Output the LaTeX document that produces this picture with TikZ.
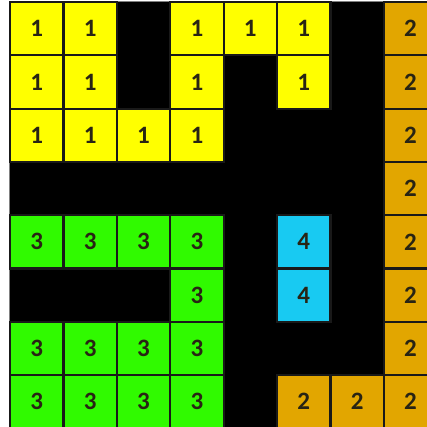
\documentclass[tikz,border=0pt]{standalone}
\usepackage{fontspec}
\setmainfont{Carlito}
\definecolor{cyel}{RGB}{255,255,0}
\definecolor{cgold}{RGB}{226,166,0}
\definecolor{cgrn}{RGB}{48,250,0}
\definecolor{ccyan}{RGB}{24,202,242}
\definecolor{ctext}{RGB}{40,36,20}
\begin{document}
\begin{tikzpicture}[x=1pt,y=1pt,
  cell/.style={draw=black!90,line width=2.2pt,minimum width=53.4pt,minimum height=53.3pt,inner sep=0pt,
    font=\fontsize{25}{25}\selectfont\bfseries,text=ctext},
  cell1/.style={cell,fill=cyel},
  cell2/.style={cell,fill=cgold},
  cell3/.style={cell,fill=cgrn},
  cell4/.style={cell,fill=ccyan}]
\useasboundingbox (0,0) rectangle (427,-426);
\clip (0,0) rectangle (427,-426);
\fill[white] (0,0) rectangle (427,-426);
\fill[black] (10,-2) rectangle (440,-430);
\draw[gray,line width=1pt] (9.5,-1.5) -- (9.5,-426) (9.5,-1.5) -- (427,-1.5);
\foreach \r/\row in {0/{1,1,0,1,1,1,0,2},1/{1,1,0,1,0,1,0,2},2/{1,1,1,1,0,0,0,2},3/{0,0,0,0,0,0,0,2},
  4/{3,3,3,3,0,4,0,2},5/{0,0,0,3,0,4,0,2},6/{3,3,3,3,0,0,0,2},7/{3,3,3,3,0,2,2,2}}{
  \foreach \v [count=\c from 0] in \row {
    \ifnum\v>0
      \node[cell\v] (n\r\c) at ({10+53.4*\c+26.7},{-(2+53.3*\r+26.65)}) {\v};
    \fi
  }
}
\end{tikzpicture}
\end{document}
